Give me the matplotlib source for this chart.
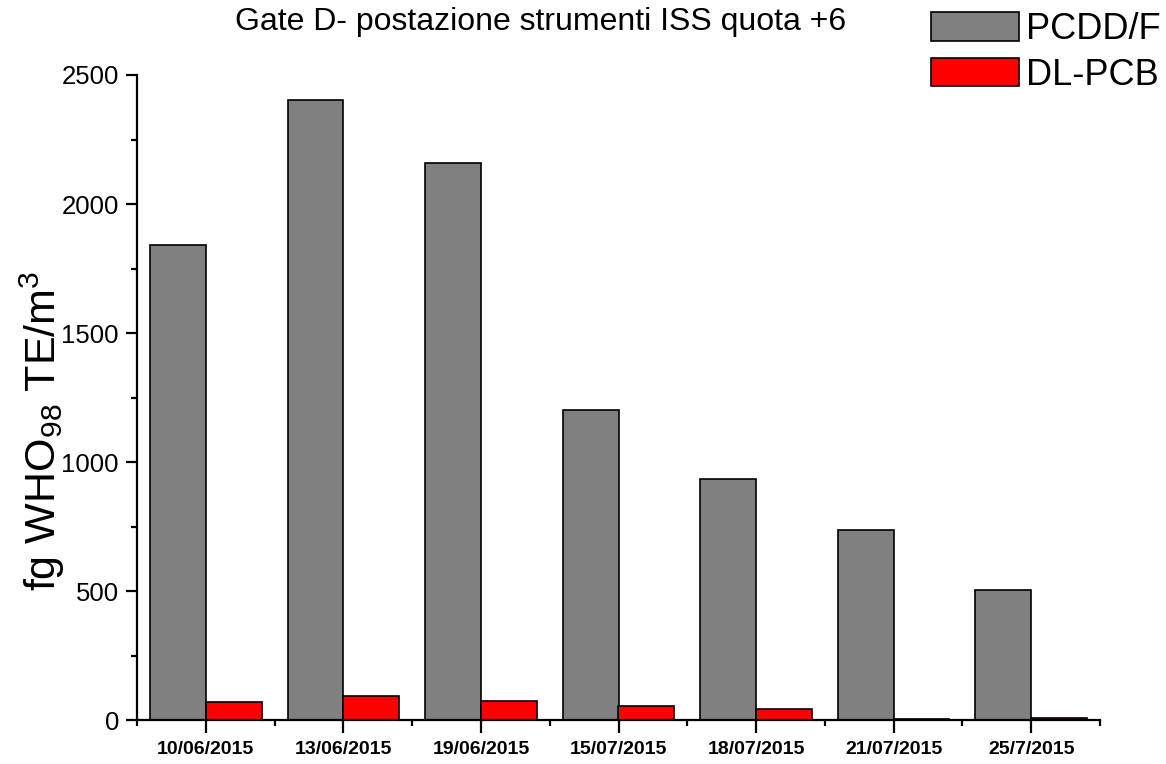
import numpy as np
import matplotlib
matplotlib.use('Agg')
from matplotlib import pyplot as plt
from matplotlib.ticker import MultipleLocator, FixedLocator

plt.rcParams['font.family'] = ['Liberation Sans', 'DejaVu Sans']
plt.rcParams['mathtext.fontset'] = 'custom'
plt.rcParams['mathtext.rm'] = 'Liberation Sans'
plt.rcParams['mathtext.it'] = 'Liberation Sans:italic'

dates = ['10/06/2015', '13/06/2015', '19/06/2015', '15/07/2015',
         '18/07/2015', '21/07/2015', '25/7/2015']
pcdd_f = [1840, 2403, 2160, 1202, 936, 737, 505]
dl_pcb = [72, 95, 74, 55, 44, 6, 10]

x = np.arange(1, len(dates) + 1)
w = 0.405

fig = plt.figure(figsize=(11.66, 7.64), dpi=100)
ax = fig.add_axes([137 / 1166, 1 - 720.3 / 764, (1100 - 137) / 1166, (720.3 - 75) / 764])

ax.bar(x - w / 2, pcdd_f, w, color='#808080', edgecolor='black', linewidth=1.2, label='PCDD/F')
ax.bar(x + w / 2, dl_pcb, w, color='#ff0000', edgecolor='black', linewidth=1.2, label='DL-PCB')

ax.set_xlim(0.5, 7.5)
ax.set_ylim(0, 2500)

for s in ['top', 'right']:
    ax.spines[s].set_visible(False)
for s in ['left', 'bottom']:
    ax.spines[s].set_linewidth(1.6)

ax.yaxis.set_major_locator(MultipleLocator(500))
ax.yaxis.set_minor_locator(MultipleLocator(250))
ax.set_xticks(x)
ax.set_xticklabels(dates, fontsize=14, fontweight='bold')
ax.xaxis.set_minor_locator(FixedLocator(np.arange(0.5, 8, 1)))

ax.tick_params(axis='y', which='major', length=8, width=1.6, labelsize=18.5, pad=5)
ax.tick_params(axis='y', which='minor', length=4.5, width=1.6)
ax.tick_params(axis='x', which='major', length=9, width=1.6, pad=6)
ax.tick_params(axis='x', which='minor', length=4.5, width=1.6)

fig.text(541 / 1166, 1 - 22 / 764, 'Gate D- postazione strumenti ISS quota +6',
         ha='center', va='center', fontsize=23)
fig.text(42 / 1166, 1 - 431 / 764,
         r'fg WHO$_{\mathrm{98}}$ TE/m$^{\mathrm{3}}$',
         ha='center', va='center', rotation=90, fontsize=31)

fig.legend(loc='upper left', bbox_to_anchor=(931 / 1166, 1 - 12 / 764),
           frameon=False, fontsize=26, borderpad=0, borderaxespad=0,
           handlelength=2.44, handleheight=0.83, handletextpad=0.2, labelspacing=0.3)

plt.savefig('out.png', dpi=100)
